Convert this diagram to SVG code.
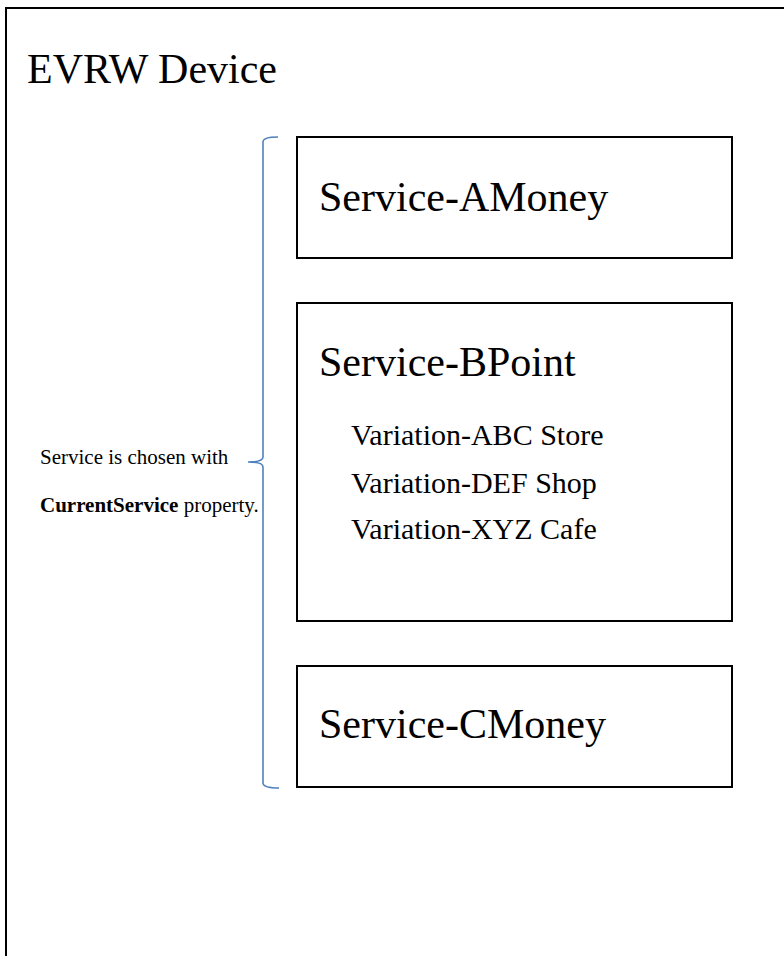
<svg xmlns="http://www.w3.org/2000/svg" width="784" height="956" viewBox="0 0 784 956">
<style>
.box{fill:#fff;stroke:#000;stroke-width:2}
.t{font-family:"Liberation Serif","Times New Roman",serif;fill:#000}
.big{font-size:42px}
.mid{font-size:30px}
.sm{font-size:21px}
.br{fill:none;stroke:#4F81BD;stroke-width:1.6}
</style>
<rect width="784" height="956" fill="#fff"/>
<g id="device">
<path d="M6,956 V8 H784" fill="none" stroke="#000" stroke-width="2"/>
<text class="t big" x="27" y="83">EVRW Device</text>
</g>
<g id="service-a">
<rect class="box" x="297" y="137" width="435" height="121"/>
<text class="t big" x="319" y="211">Service-AMoney</text>
</g>
<g id="service-b">
<rect class="box" x="297" y="303" width="435" height="318"/>
<text class="t big" x="319" y="376">Service-BPoint</text>
<text class="t mid" x="351" y="445">Variation-ABC Store</text>
<text class="t mid" x="351" y="493">Variation-DEF Shop</text>
<text class="t mid" x="351" y="539">Variation-XYZ Cafe</text>
</g>
<g id="service-c">
<rect class="box" x="297" y="666" width="435" height="121"/>
<text class="t big" x="319" y="738">Service-CMoney</text>
</g>
<g id="connectors">
<path class="br" d="M278,137 Q263,137 263,142 V457 Q263,462 248,462 Q263,462 263,467 V783 Q263,788 279,788"/>
</g>
<g id="note">
<text class="t sm" x="40" y="464">Service is chosen with</text>
<text class="t sm" x="40" y="512"><tspan font-weight="bold">CurrentService</tspan> property.</text>
</g>
</svg>
